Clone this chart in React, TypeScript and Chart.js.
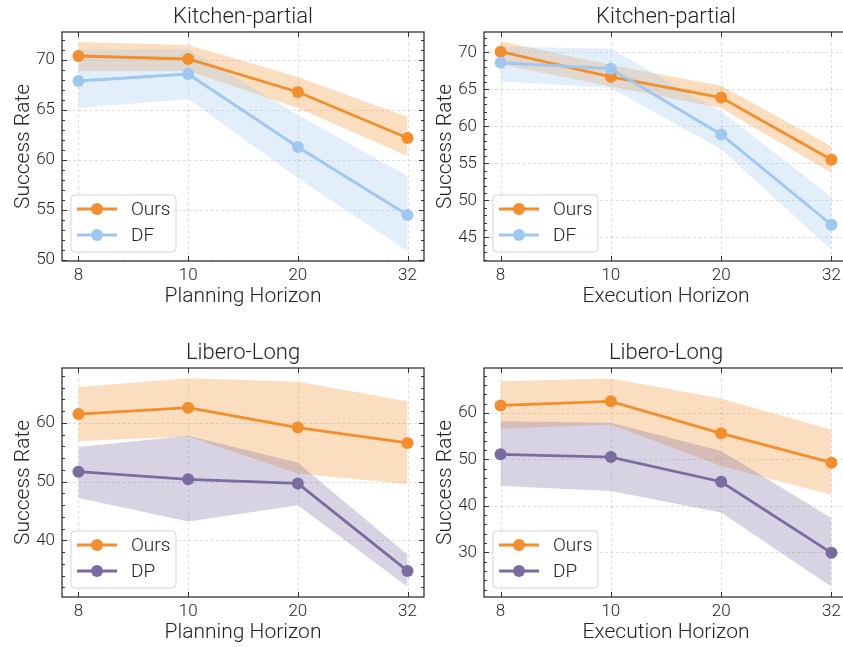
import React, { useEffect, useRef } from "react";
import { Chart, registerables } from "chart.js";
Chart.register(...registerables);

// ---- data ----
const horizons = ["8", "10", "20", "32"];
const xPositions = [0, 1, 2, 3];

// Kitchen-partial, planning horizon
const kpPlanOurs = [70.4, 70.1, 66.8, 62.2];
const kpPlanOursHigh = [71.8, 71.5, 68.3, 64.3];
const kpPlanOursLow = [68.9, 68.9, 65.2, 60.4];
const kpPlanDF = [67.9, 68.6, 61.3, 54.5];
const kpPlanDFHigh = [71.0, 71.1, 64.5, 58.4];
const kpPlanDFLow = [65.2, 66.1, 58.2, 50.9];

// Kitchen-partial, execution horizon
const kpExecOurs = [70.1, 66.7, 63.9, 55.5];
const kpExecOursHigh = [71.5, 68.3, 65.5, 57.3];
const kpExecOursLow = [68.4, 65.4, 62.5, 53.7];
const kpExecDF = [68.6, 67.8, 58.9, 46.7];
const kpExecDFHigh = [70.8, 70.5, 62.0, 50.5];
const kpExecDFLow = [66.1, 65.2, 56.9, 43.3];

// Libero-Long, planning horizon
const llPlanOurs = [61.5, 62.6, 59.2, 56.6];
const llPlanOursHigh = [66.1, 67.6, 67.0, 63.7];
const llPlanOursLow = [56.9, 57.7, 51.4, 49.6];
const llPlanDP = [51.7, 50.4, 49.7, 34.8];
const llPlanDPHigh = [55.9, 57.8, 53.2, 37.6];
const llPlanDPLow = [47.2, 43.2, 46.0, 32.1];

// Libero-Long, execution horizon
const llExecOurs = [61.6, 62.5, 55.6, 49.3];
const llExecOursHigh = [66.8, 67.4, 63.1, 56.4];
const llExecOursLow = [56.6, 57.5, 48.6, 42.4];
const llExecDP = [51.1, 50.5, 45.2, 29.9];
const llExecDPHigh = [58.2, 57.9, 51.8, 37.4];
const llExecDPLow = [44.3, 43.2, 38.6, 22.6];

// y tick labels
const kpPlanYTicks = [50, 55, 60, 65, 70];
const kpExecYTicks = [45, 50, 55, 60, 65, 70];
const llPlanYTicks = [40, 50, 60];
const llExecYTicks = [30, 40, 50, 60];

// ---- style ----
const FONT = "Roboto, 'Liberation Sans', Arial, sans-serif";
const FW = "300";
const TEXT = "#222";
const ORANGE: [number, number, number] = [242, 142, 43];
const BLUE: [number, number, number] = [158, 200, 240];
const PURPLE: [number, number, number] = [122, 108, 160];
const rgba = (c: number[], a: number) => `rgba(${c[0]},${c[1]},${c[2]},${a})`;

type Series = { label: string; color: number[]; mean: number[]; low: number[]; high: number[] };
type Panel = {
  title: string;
  xTitle: string;
  yMin: number;
  yMax: number;
  yTicks: number[];
  yMinor: number;
  series: Series[];
  left: number;
  top: number;
  width: number;
  height: number;
};

const panels: Panel[] = [
  {
    title: "Kitchen-partial", xTitle: "Planning Horizon", yMin: 49.9, yMax: 72.8, yTicks: kpPlanYTicks, yMinor: 1,
    series: [
      { label: "Ours", color: ORANGE, mean: kpPlanOurs, low: kpPlanOursLow, high: kpPlanOursHigh },
      { label: "DF", color: BLUE, mean: kpPlanDF, low: kpPlanDFLow, high: kpPlanDFHigh },
    ],
    left: 0, top: 0, width: 430, height: 320,
  },
  {
    title: "Kitchen-partial", xTitle: "Execution Horizon", yMin: 41.8, yMax: 72.76, yTicks: kpExecYTicks, yMinor: 1,
    series: [
      { label: "Ours", color: ORANGE, mean: kpExecOurs, low: kpExecOursLow, high: kpExecOursHigh },
      { label: "DF", color: BLUE, mean: kpExecDF, low: kpExecDFLow, high: kpExecDFHigh },
    ],
    left: 422, top: 0, width: 432, height: 320,
  },
  {
    title: "Libero-Long", xTitle: "Planning Horizon", yMin: 30.36, yMax: 69.35, yTicks: llPlanYTicks, yMinor: 2,
    series: [
      { label: "Ours", color: ORANGE, mean: llPlanOurs, low: llPlanOursLow, high: llPlanOursHigh },
      { label: "DP", color: PURPLE, mean: llPlanDP, low: llPlanDPLow, high: llPlanDPHigh },
    ],
    left: 0, top: 336, width: 430, height: 320,
  },
  {
    title: "Libero-Long", xTitle: "Execution Horizon", yMin: 20.4, yMax: 69.66, yTicks: llExecYTicks, yMinor: 2,
    series: [
      { label: "Ours", color: ORANGE, mean: llExecOurs, low: llExecOursLow, high: llExecOursHigh },
      { label: "DP", color: PURPLE, mean: llExecDP, low: llExecDPLow, high: llExecDPHigh },
    ],
    left: 422, top: 336, width: 432, height: 320,
  },
];

const LINE_W = 2.8;
const PT_R = 6;

function PanelChart({ panel }: { panel: Panel }) {
  const ref = useRef<HTMLCanvasElement>(null);
  useEffect(() => {
    const toXY = (arr: number[]) => arr.map((v, i) => ({ x: xPositions[i], y: v }));
    const datasets: any[] = [];
    const n = panel.series.length;
    panel.series.forEach((s, si) => {
      datasets.push({
        label: s.label,
        data: toXY(s.mean),
        borderColor: rgba(s.color, 1),
        backgroundColor: rgba(s.color, 1),
        borderWidth: LINE_W,
        pointRadius: PT_R,
        pointHoverRadius: PT_R,
        pointBorderWidth: 0,
        pointBackgroundColor: rgba(s.color, 1),
        fill: false,
        tension: 0,
        order: n - 1 - si,
      });
    });
    panel.series.forEach((s, si) => {
      const hiIndex = datasets.length;
      datasets.push({
        label: s.label + " high",
        data: toXY(s.high),
        borderWidth: 0,
        pointRadius: 0,
        fill: hiIndex + 1,
        backgroundColor: rgba(s.color, 0.3),
        borderColor: "rgba(0,0,0,0)",
        order: 10 + (n - si) * 2,
      });
      datasets.push({
        label: s.label + " low",
        data: toXY(s.low),
        borderWidth: 0,
        pointRadius: 0,
        fill: false,
        borderColor: "rgba(0,0,0,0)",
        order: 11 + (n - si) * 2,
      });
    });

    const decor = {
      id: "decor",
      beforeDraw(chart: any) {
        const { ctx, chartArea: ca } = chart;
        const xs = chart.scales.x, ys = chart.scales.y;
        ctx.save();
        ctx.strokeStyle = "rgba(0,0,0,0.17)";
        ctx.lineWidth = 0.8;
        ctx.setLineDash([3, 2.5]);
        xPositions.forEach((v) => {
          const px = Math.round(xs.getPixelForValue(v)) + 0.5;
          ctx.beginPath(); ctx.moveTo(px, ca.top); ctx.lineTo(px, ca.bottom); ctx.stroke();
        });
        panel.yTicks.forEach((v) => {
          const py = Math.round(ys.getPixelForValue(v)) + 0.5;
          ctx.beginPath(); ctx.moveTo(ca.left, py); ctx.lineTo(ca.right, py); ctx.stroke();
        });
        ctx.restore();
      },
      afterDatasetsDraw(chart: any) {
        const { ctx, chartArea: ca } = chart;
        const xs = chart.scales.x, ys = chart.scales.y;
        ctx.save();
        ctx.strokeStyle = "#333";
        ctx.lineWidth = 1;
        const MAJ = 5, MIN = 3;
        xPositions.forEach((v) => {
          const px = Math.round(xs.getPixelForValue(v)) + 0.5;
          ctx.beginPath();
          ctx.moveTo(px, ca.bottom); ctx.lineTo(px, ca.bottom - MAJ);
          ctx.moveTo(px, ca.top); ctx.lineTo(px, ca.top + MAJ);
          ctx.stroke();
        });
        const start = Math.ceil(panel.yMin / panel.yMinor) * panel.yMinor;
        for (let v = start; v <= panel.yMax + 1e-9; v += panel.yMinor) {
          const isMajor = panel.yTicks.some((t) => Math.abs(t - v) < 1e-6);
          const len = isMajor ? MAJ : MIN;
          const py = Math.round(ys.getPixelForValue(v)) + 0.5;
          ctx.beginPath();
          ctx.moveTo(ca.left, py); ctx.lineTo(ca.left + len, py);
          ctx.moveTo(ca.right, py); ctx.lineTo(ca.right - len, py);
          ctx.stroke();
        }
        ctx.strokeStyle = "#222";
        ctx.lineWidth = 1.2;
        ctx.strokeRect(ca.left, ca.top, ca.width, ca.height);

        // legend
        const bx = ca.left + 9, bw = 105, bh = 57;
        const by = ca.bottom - 9 - bh;
        const r = 4;
        ctx.beginPath();
        ctx.moveTo(bx + r, by);
        ctx.lineTo(bx + bw - r, by); ctx.arcTo(bx + bw, by, bx + bw, by + r, r);
        ctx.lineTo(bx + bw, by + bh - r); ctx.arcTo(bx + bw, by + bh, bx + bw - r, by + bh, r);
        ctx.lineTo(bx + r, by + bh); ctx.arcTo(bx, by + bh, bx, by + bh - r, r);
        ctx.lineTo(bx, by + r); ctx.arcTo(bx, by, bx + r, by, r);
        ctx.closePath();
        ctx.fillStyle = "rgba(255,255,255,0.8)";
        ctx.fill();
        ctx.strokeStyle = "#d4d4d4";
        ctx.lineWidth = 1;
        ctx.stroke();
        panel.series.forEach((s, i) => {
          const ry = by + 14 + i * 26;
          ctx.strokeStyle = rgba(s.color, 1);
          ctx.lineWidth = LINE_W;
          ctx.beginPath(); ctx.moveTo(bx + 6, ry); ctx.lineTo(bx + 46, ry); ctx.stroke();
          ctx.fillStyle = rgba(s.color, 1);
          ctx.beginPath(); ctx.arc(bx + 26, ry, PT_R, 0, Math.PI * 2); ctx.fill();
          ctx.fillStyle = TEXT;
          ctx.font = `${FW} 19px ${FONT}`;
          ctx.textAlign = "left";
          ctx.textBaseline = "middle";
          ctx.fillText(s.label, bx + 60, ry + 1);
        });

        const cx = (ca.left + ca.right) / 2;
        ctx.fillStyle = TEXT;
        ctx.textAlign = "center";
        ctx.textBaseline = "alphabetic";
        ctx.font = `${FW} 22px ${FONT}`;
        ctx.fillText(panel.title, cx, ca.top - 9);
        ctx.font = `${FW} 21px ${FONT}`;
        ctx.fillText(panel.xTitle, cx, ca.bottom + 41);
        ctx.save();
        ctx.translate(29, (ca.top + ca.bottom) / 2);
        ctx.rotate(-Math.PI / 2);
        ctx.fillText("Success Rate", 0, 0);
        ctx.restore();
        ctx.restore();
      },
    };

    const chart = new Chart(ref.current as HTMLCanvasElement, {
      type: "line",
      data: { datasets },
      options: {
        animation: false,
        responsive: false,
        events: [],
        layout: { padding: { top: 32, right: 5, left: 0, bottom: 0 } },
        plugins: {
          legend: { display: false },
          tooltip: { enabled: false },
          title: { display: false },
          filler: { drawTime: "beforeDatasetsDraw" } as any,
        },
        scales: {
          x: {
            type: "linear",
            min: -0.15,
            max: 3.15,
            grid: { display: false, drawTicks: false },
            border: { display: false },
            afterBuildTicks: (scale: any) => {
              scale.ticks = xPositions.map((v) => ({ value: v }));
            },
            afterFit: (scale: any) => {
              scale.height = 59;
            },
            ticks: {
              autoSkip: false,
              maxRotation: 0,
              padding: 5,
              color: TEXT,
              font: { family: FONT, size: 17, weight: FW },
              callback: (v: any) => horizons[v] ?? "",
            },
          },
          y: {
            type: "linear",
            min: panel.yMin,
            max: panel.yMax,
            grid: { display: false, drawTicks: false },
            border: { display: false },
            afterBuildTicks: (scale: any) => {
              scale.ticks = panel.yTicks.map((v) => ({ value: v }));
            },
            afterFit: (scale: any) => {
              scale.width = 62;
            },
            ticks: {
              padding: 7,
              color: TEXT,
              font: { family: FONT, size: 17, weight: FW },
              callback: (v: any) => String(v),
            },
          },
        },
      } as any,
      plugins: [decor],
    });
    return () => chart.destroy();
  }, [panel]);
  return (
    <canvas
      ref={ref}
      width={panel.width}
      height={panel.height}
      style={{ position: "absolute", left: panel.left, top: panel.top, width: panel.width, height: panel.height }}
    />
  );
}

export default function App() {
  return (
    <div
      style={{
        position: "fixed",
        left: 0,
        top: 0,
        width: 843,
        height: 647,
        overflow: "hidden",
        background: "#fff",
      }}
    >
      {panels.map((p, i) => (
        <PanelChart key={i} panel={p} />
      ))}
    </div>
  );
}
